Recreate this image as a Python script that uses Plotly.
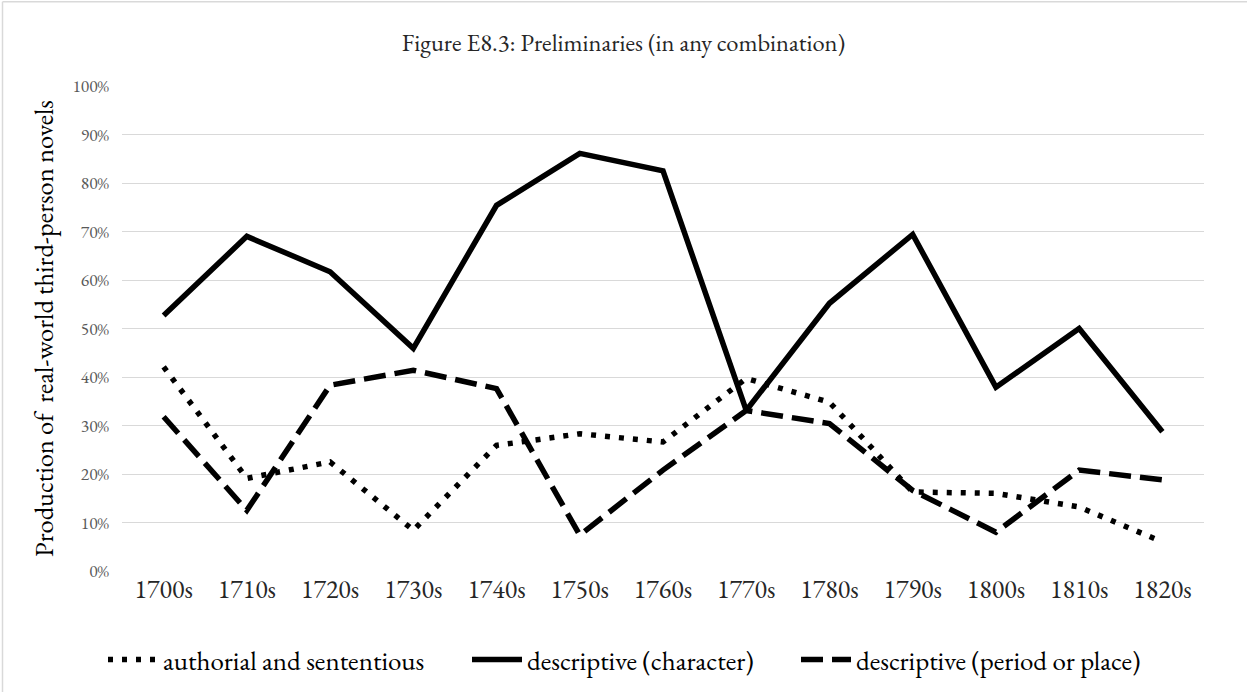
import plotly.graph_objects as go

decades = ["1700s", "1710s", "1720s", "1730s", "1740s", "1750s", "1760s",
           "1770s", "1780s", "1790s", "1800s", "1810s", "1820s"]
authorial = [0.421, 0.191, 0.225, 0.084, 0.259, 0.283, 0.266,
             0.397, 0.348, 0.163, 0.160, 0.132, 0.060]
character = [0.527, 0.690, 0.617, 0.459, 0.754, 0.861, 0.825,
             0.331, 0.552, 0.694, 0.379, 0.500, 0.287]
period_place = [0.318, 0.125, 0.383, 0.414, 0.376, 0.074, 0.208,
                0.331, 0.304, 0.166, 0.080, 0.208, 0.188]
y_ticks = [i / 10 for i in range(11)]

FONT = "Garamond, 'EB Garamond', 'Liberation Serif', 'DejaVu Serif', serif"
W, H = 1247, 692

fig = go.Figure()
fig.add_trace(go.Scatter(x=decades, y=authorial, mode="lines",
                         name="authorial and sententious", legend="legend",
                         line=dict(color="black", width=5.5, dash="5px,9px")))
fig.add_trace(go.Scatter(x=decades, y=character, mode="lines",
                         name="descriptive (character)", legend="legend2",
                         line=dict(color="black", width=5.5)))
fig.add_trace(go.Scatter(x=decades, y=period_place, mode="lines",
                         name="descriptive (period or place)", legend="legend3",
                         line=dict(color="black", width=5.5, dash="22px,9px")))


def leg(x_px, iw=50):
    return dict(orientation="h", xref="container", yref="container",
                x=x_px / W, xanchor="left", y=1 - 660 / H, yanchor="middle",
                font=dict(size=27, color="black"), itemwidth=iw,
                bgcolor="rgba(0,0,0,0)")


fig.update_layout(
    width=W, height=H,
    margin=dict(l=122, r=43, t=86, b=121),
    paper_bgcolor="white", plot_bgcolor="white",
    font=dict(family=FONT, color="black"),
    title=dict(text="Figure E8.3: Preliminaries (in any combination)",
               x=0.5, xref="container", xanchor="center",
               y=1 - 42 / H, yref="container", yanchor="middle",
               font=dict(size=24.5, color="#262626")),
    xaxis=dict(type="category", range=[-0.5, 12.5], showgrid=False,
               showline=False, zeroline=False, ticks="",
               tickfont=dict(size=26, color="#262626")),
    yaxis=dict(range=[0, 1], tickvals=y_ticks, tickformat=".0%",
               showgrid=True, gridcolor="#d9d9d9", gridwidth=1.3,
               zeroline=False, showline=False, ticks="",
               ticklabelstandoff=12,
               tickfont=dict(size=17.5, color="#595959"),
               title=dict(text="Production of  real-world third-person novels",
                          font=dict(size=26.5, color="black"), standoff=11)),
    legend=leg(103),
    legend2=leg(467),
    legend3=leg(796),
    showlegend=True,
    shapes=[
        dict(type="line", xref="paper", yref="paper",
             x0=(2.5 - 122) / 1082, x1=(2.5 - 122) / 1082,
             y0=(570.7 - 700) / 485, y1=(570.7 - 1.5) / 485,
             line=dict(color="#d9d9d9", width=1.5), layer="below"),
        dict(type="line", xref="paper", yref="paper",
             x0=(2.5 - 122) / 1082, x1=(1300 - 122) / 1082,
             y0=(570.7 - 1.5) / 485, y1=(570.7 - 1.5) / 485,
             line=dict(color="#d9d9d9", width=1.5), layer="below"),
    ],
)

fig.write_html("out.html", config={"displayModeBar": False},
               post_script="document.body.style.margin='0';document.body.style.padding='0';")
